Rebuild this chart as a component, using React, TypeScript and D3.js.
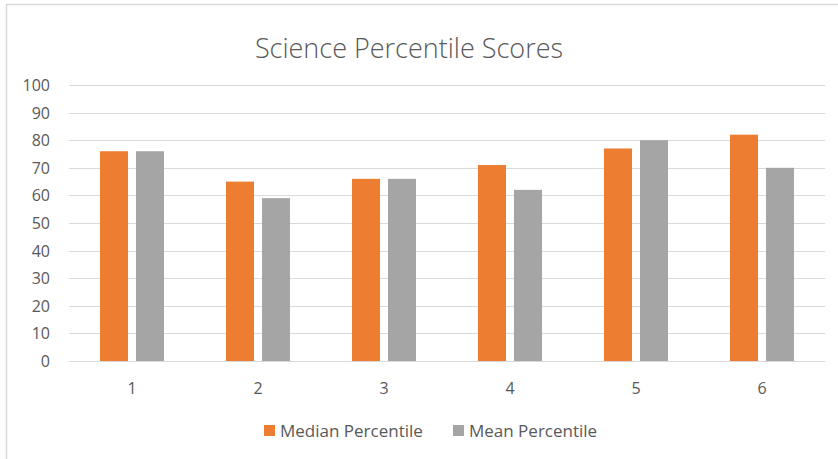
import * as d3 from "d3";
import React, { useEffect, useRef } from "react";

const categories = ["1", "2", "3", "4", "5", "6"];
const medianPercentile = [76, 65, 66, 71, 77, 82];
const meanPercentile = [76, 59, 66, 62, 80, 70];
const seriesNames = ["Median Percentile", "Mean Percentile"];
const yTicks = [0, 10, 20, 30, 40, 50, 60, 70, 80, 90, 100];

const colors = ["#ED7D31", "#A5A5A5"];
const textColor = "#595959";
const font = "'Open Sans', sans-serif";

const App: React.FC = () => {
  const ref = useRef<SVGSVGElement>(null);

  useEffect(() => {
    const width = 838;
    const height = 459;
    const margin = { top: 85, right: 13, bottom: 98, left: 69 };

    const svg = d3.select(ref.current);
    svg.selectAll("*").remove();

    // chart frame (only top and left edges are visible in the crop)
    svg
      .append("path")
      .attr("d", `M6.5,${height} L6.5,4.5 L${width},4.5`)
      .attr("fill", "none")
      .attr("stroke", "#D9D9D9")
      .attr("stroke-width", 1.5);

    const x = d3
      .scaleBand()
      .domain(categories)
      .range([margin.left, width - margin.right]);

    const y = d3
      .scaleLinear()
      .domain([0, 100])
      .range([height - margin.bottom, margin.top]);

    // gridlines
    svg
      .append("g")
      .selectAll("line")
      .data(yTicks)
      .enter()
      .append("line")
      .attr("x1", margin.left)
      .attr("x2", width - margin.right)
      .attr("y1", (d) => Math.round(y(d)) + 0.5)
      .attr("y2", (d) => Math.round(y(d)) + 0.5)
      .attr("stroke", "#D9D9D9")
      .attr("stroke-width", 1);

    // y labels
    svg
      .append("g")
      .selectAll("text")
      .data(yTicks)
      .enter()
      .append("text")
      .text((d) => String(d))
      .attr("x", 50)
      .attr("y", (d) => y(d) + 6)
      .attr("text-anchor", "end")
      .attr("font-family", font)
      .attr("font-size", "16px")
      .attr("fill", textColor);

    const barWidth = 28;
    const gap = 8;
    const series = [medianPercentile, meanPercentile];

    series.forEach((values, si) => {
      svg
        .append("g")
        .selectAll("rect")
        .data(values)
        .enter()
        .append("rect")
        .attr("x", (_, i) => {
          const c = (x(categories[i]) as number) + x.bandwidth() / 2;
          return si === 0 ? c - gap / 2 - barWidth : c + gap / 2;
        })
        .attr("y", (d) => y(d))
        .attr("width", barWidth)
        .attr("height", (d) => y(0) - y(d))
        .attr("fill", colors[si]);
    });

    // x labels
    svg
      .append("g")
      .selectAll("text")
      .data(categories)
      .enter()
      .append("text")
      .text((d) => d)
      .attr("x", (d) => (x(d) as number) + x.bandwidth() / 2)
      .attr("y", height - margin.bottom + 33)
      .attr("text-anchor", "middle")
      .attr("font-family", font)
      .attr("font-size", "16px")
      .attr("fill", textColor);

    // title
    svg
      .append("text")
      .text("Science Percentile Scores")
      .attr("x", 409)
      .attr("y", 58)
      .attr("text-anchor", "middle")
      .attr("font-family", font)
      .attr("font-weight", "300")
      .attr("font-size", "27px")
      .attr("fill", textColor);

    // legend
    const legendX = [264, 453];
    seriesNames.forEach((name, i) => {
      svg
        .append("rect")
        .attr("x", legendX[i])
        .attr("y", 425)
        .attr("width", 11)
        .attr("height", 11)
        .attr("fill", colors[i]);
      svg
        .append("text")
        .text(name)
        .attr("x", legendX[i] + 16)
        .attr("y", 437)
        .attr("font-family", font)
        .attr("font-size", "17px")
        .attr("fill", textColor);
    });
  }, []);

  return (
    <svg
      ref={ref}
      width={838}
      height={459}
      style={{ position: "absolute", left: 0, top: 0, display: "block" }}
    />
  );
};

export default App;
